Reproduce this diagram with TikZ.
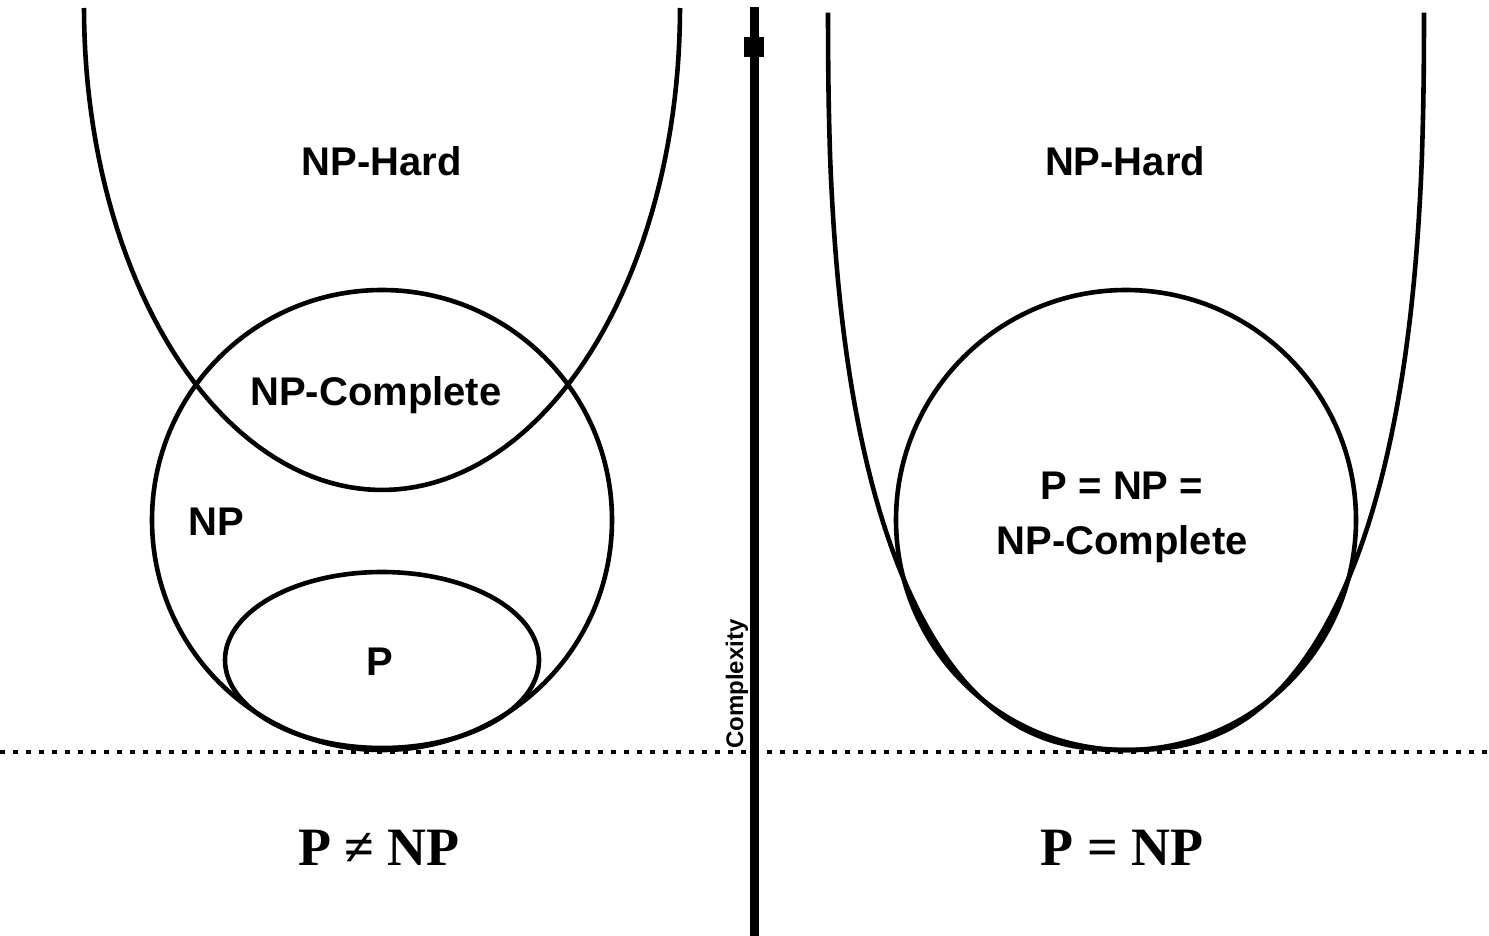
\documentclass[tikz,border=0pt]{standalone}
\usepackage{amsmath,amssymb}
\usepackage{fontspec}
\newfontfamily\setfont{Liberation Sans}
\newfontfamily\resultfont{Liberation Serif}
\usepackage{tikz}
\usetikzlibrary{calc}

\begin{document}
\begin{tikzpicture}[x=0.5pt,y=0.5pt,
  setname/.style={font=\setfont\bfseries\fontsize{20}{27.5}\selectfont,inner sep=0pt},
  result/.style={font=\resultfont\bfseries\fontsize{27}{30}\selectfont,inner sep=0pt},
  curve/.style={line width=2.3pt,line join=round}]
\useasboundingbox (0,0) rectangle (1489,-936);
% complexity axis and the baseline
\coordinate (top) at (754,-7);
\coordinate (bottom) at (754,-936);
\draw[line width=4.5pt] (bottom) -- (top);
\fill ($(top)+(-10,-30)$) rectangle ($(top)+(10,-50)$);
\draw[line width=2pt,dash pattern=on 2.5pt off 4pt] (0,-752) -- (1489,-752);
\node[font=\setfont\bfseries\fontsize{12}{14}\selectfont,rotate=90,inner sep=0pt] (axislabel) at (737,-684) {Complexity};
% left: P != NP
\draw[curve] plot[domain=180:360,samples=100] ({382+298*cos(\x)},{-8+482*sin(\x)});
\draw[curve] (382,-520) circle[radius=230];
\draw[curve] (382,-660) ellipse[x radius=157,y radius=88];
\node[setname] (hardL) at (382,-161) {NP-Hard};
\node[setname] (completeL) at (376,-395) {NP-Complete};
\node[setname] (np) at (216,-522) {NP};
\node[setname] (p) at (380,-662) {P};
\node[result] (neq) at (379,-848) {P ≠ NP};
% right: P = NP
\draw[curve] plot[domain=-89.9:89.9,samples=120] ({1126+298*sin(\x)*abs(sin(\x))^(-0.2)},{-8-742*cos(\x)^0.8});
\draw[curve] (1126,-520) circle[radius=230];
\node[setname] (hardR) at (1125,-161) {NP-Hard};
\node[setname,align=center] (equal) at (1122,-517) {P = NP =\\NP-Complete};
\node[result] (eq) at (1122,-848) {P = NP};
\end{tikzpicture}
\end{document}
